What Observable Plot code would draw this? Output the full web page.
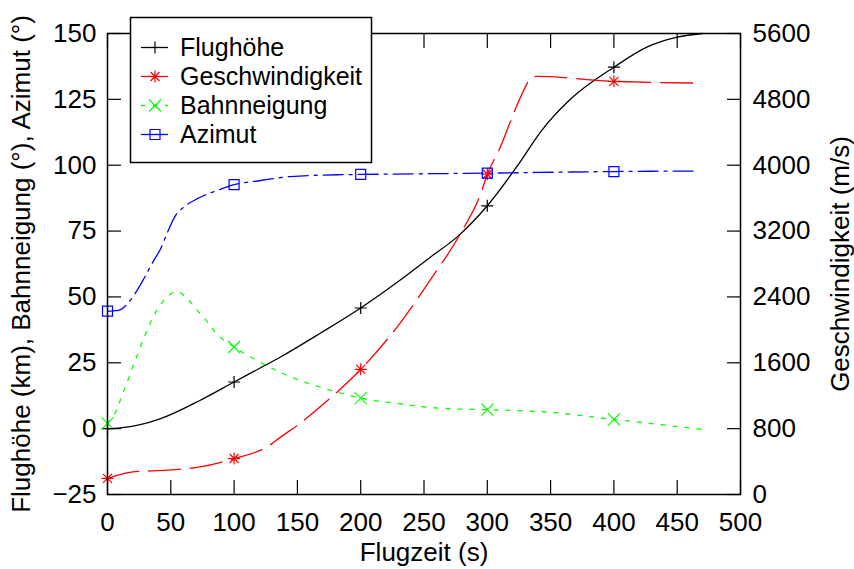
<!DOCTYPE html>
<html>
<head>
<meta charset="utf-8">
<script src="https://cdn.jsdelivr.net/npm/d3@7"></script>
<script src="https://cdn.jsdelivr.net/npm/@observablehq/plot@0.6"></script>
<style>
  body { margin: 0; background: #fff; }
  #wrap { position: relative; width: 854px; height: 569px; }
  #wrap svg.legend { position: absolute; left: 0; top: 0; pointer-events: none; }
</style>
</head>
<body>
<div id="wrap"></div>
<script>
// ---- tick labels / axes ----
const xTicks = [0, 50, 100, 150, 200, 250, 300, 350, 400, 450, 500];
const leftTicks = [-25, 0, 25, 50, 75, 100, 125, 150];
const rightTicks = [0, 800, 1600, 2400, 3200, 4000, 4800, 5600];
const xTitle = "Flugzeit (s)";
const leftTitle = "Flughöhe (km), Bahnneigung (°), Azimut (°)";
const rightTitle = "Geschwindigkeit (m/s)";

// ---- series names / colours ----
const seriesNames = ["Flughöhe", "Geschwindigkeit", "Bahnneigung", "Azimut"];
const seriesColors = ["#000000", "#ff0000", "#00ff00", "#0000ff"];

// ---- Flughöhe (km), left axis ----
const hT = [0, 10, 25, 42, 73, 100, 121, 137, 168, 200, 231, 255, 276, 300, 324, 342, 366, 400, 426, 450, 470];
const hV = [0, 0.3, 1.4, 3.8, 10.7, 17.7, 23.1, 27.3, 36.2, 45.8, 56.3, 65.1, 72.7, 84.6, 99.9, 112.6, 125.2, 137.2, 144.8, 148.6, 150];

// ---- Geschwindigkeit (m/s), right axis ----
const vT = [0, 20, 47, 73, 100, 126, 137, 152, 168, 200, 231, 255, 279, 295, 300, 310, 322, 331, 334, 339, 400, 467];
const vV = [195, 274, 295, 335, 437, 578, 700, 863, 1065, 1520, 2080, 2607, 3175, 3662, 3890, 4209, 4675, 4979, 5060, 5078, 5019, 4998];

// ---- Bahnneigung (°), left axis ----
const bT = [0, 5, 13, 21, 29, 39, 47, 54.5, 63, 71, 79, 85, 100, 118, 142, 168, 200, 229, 268, 300, 347, 400, 470];
const bV = [2, 5.0, 14.5, 24.7, 34.8, 44.9, 49.9, 52.1, 49.3, 44.9, 40.5, 36.7, 31.0, 25.9, 20.2, 15.8, 11.6, 9.5, 7.6, 7.2, 6.3, 3.5, -0.3];

// ---- Azimut (°), left axis ----
const aT = [0, 8.7, 16.8, 23.4, 28.7, 36.6, 42, 45.8, 53.7, 60.3, 71, 86.6, 100, 121, 144.5, 184, 200, 300, 400, 467];
const aV = [44.6, 44.9, 48.0, 52.5, 56.9, 63.9, 68.3, 72.7, 80.9, 84.1, 87.3, 90.4, 92.6, 94.2, 95.7, 96.4, 96.5, 97.0, 97.6, 97.8];

// ---- marker positions ----
const markT = [0, 100, 200, 300, 400];
const markH = [0, 17.7, 45.8, 84.6, 137.2];
const markV = [195, 437, 1520, 3890, 5019];
const markB = [2, 31.0, 11.6, 7.2, 3.5];
const markA = [44.6, 92.6, 96.5, 97.0, 97.6];

// velocity -> left-axis units
const vToY = d3.scaleLinear(d3.extent(rightTicks), d3.extent(leftTicks));

const rows = (ts, vs, f = (d) => d) => ts.map((t, i) => ({t, v: f(vs[i])}));
const hRows = rows(hT, hV), vRows = rows(vT, vV, vToY), bRows = rows(bT, bV), aRows = rows(aT, aV);
const hMk = rows(markT, markH), vMk = rows(markT, markV, vToY), bMk = rows(markT, markB), aMk = rows(markT, markA);

// gnuplot-like symbols
const symPlus = {draw(c, s) { const r = Math.sqrt(s / Math.PI); c.moveTo(-r, 0); c.lineTo(r, 0); c.moveTo(0, -r); c.lineTo(0, r); }};
const symTimes = {draw(c, s) { const r = Math.sqrt(s / Math.PI); c.moveTo(-r, -r); c.lineTo(r, r); c.moveTo(-r, r); c.lineTo(r, -r); }};
const symStar = {draw(c, s) { const r = Math.sqrt(s / Math.PI); const q = r * 0.75;
  c.moveTo(-r, 0); c.lineTo(r, 0); c.moveTo(0, -r); c.lineTo(0, r);
  c.moveTo(-q, -q); c.lineTo(q, q); c.moveTo(-q, q); c.lineTo(q, -q); }};
const symSquare = {draw(c, s) { const r = Math.sqrt(s / Math.PI); c.moveTo(-r, -r); c.lineTo(r, -r); c.lineTo(r, r); c.lineTo(-r, r); c.closePath(); }};
const symbols = [symPlus, symStar, symTimes, symSquare];
const dashes = [null, "32,10", "4,8", "20,6,3,6"];
const sizes = [6, 6, 6, 5];

const lineData = [hRows, vRows, bRows, aRows];
const markData = [hMk, vMk, bMk, aMk];

const font = "'Liberation Sans', Arial, Helvetica, sans-serif";

const marks = [];
lineData.forEach((data, i) => {
  marks.push(Plot.line(data, {x: "t", y: "v", stroke: seriesColors[i], strokeWidth: 1.3,
    strokeDasharray: dashes[i], curve: "monotone-x"}));
});
markData.forEach((data, i) => {
  marks.push(Plot.dot(data, {x: "t", y: "v", symbol: symbols[i], r: sizes[i], stroke: seriesColors[i],
    fill: "none", strokeWidth: 1.2}));
});

const chart = Plot.plot({
  width: 854,
  height: 569,
  marginLeft: 107,
  marginRight: 114,
  marginTop: 33,
  marginBottom: 75,
  style: {fontFamily: font, fontSize: "26px", background: "#fff", color: "#000", overflow: "visible"},
  x: {domain: [0, 500]},
  y: {domain: [-25, 150]},
  marks: [
    ...marks,
    Plot.axisX({ticks: xTicks, anchor: "bottom", tickSize: -14, tickPadding: 32, fontSize: 26,
      label: null, strokeWidth: 1.2}),
    Plot.axisX({ticks: xTicks, anchor: "top", tickSize: -14, tickFormat: () => "", label: null, strokeWidth: 1.2}),
    Plot.axisY({ticks: leftTicks, anchor: "left", tickSize: -14, tickPadding: 25, fontSize: 26,
      label: null, strokeWidth: 1.2}),
    Plot.axisY({ticks: rightTicks.map(vToY), anchor: "right", tickSize: -14, tickPadding: 26, fontSize: 26,
      tickFormat: (d) => String(Math.round(vToY.invert(d))), label: null, strokeWidth: 1.2}),
    Plot.text([xTitle], {text: (d) => d, frameAnchor: "bottom", dy: 58, textAnchor: "middle", lineAnchor: "middle", fontSize: 26, fill: "#000"}),
    Plot.text([leftTitle], {text: (d) => d, frameAnchor: "left", dx: -86, rotate: -90, textAnchor: "middle", lineAnchor: "middle", fontSize: 26, fill: "#000"}),
    Plot.text([rightTitle], {text: (d) => d, frameAnchor: "right", dx: 100, rotate: -90, textAnchor: "middle", lineAnchor: "middle", fontSize: 26, fill: "#000"}),
    Plot.frame({stroke: "#000", strokeWidth: 1.5})
  ]
});

const wrap = document.getElementById("wrap");
wrap.appendChild(chart);

// ---- legend overlay ----
const lg = d3.select(wrap).append("svg").attr("class", "legend")
  .attr("width", 854).attr("height", 569);
lg.append("rect").attr("x", 130.5).attr("y", 17.5).attr("width", 241).attr("height", 145)
  .attr("fill", "#fff").attr("stroke", "#000").attr("stroke-width", 1.5);
seriesNames.forEach((name, i) => {
  const cy = 47.5 + i * 29;
  lg.append("line").attr("x1", 141).attr("x2", 168).attr("y1", cy).attr("y2", cy)
    .attr("stroke", seriesColors[i]).attr("stroke-width", 1.3)
    .attr("stroke-dasharray", i === 2 ? "4,8" : null);
  const p = d3.path();
  symbols[i].draw(p, Math.PI * sizes[i] * sizes[i]);
  lg.append("path").attr("d", p.toString()).attr("transform", `translate(155,${cy})`)
    .attr("fill", "none").attr("stroke", seriesColors[i]).attr("stroke-width", 1.2);
  lg.append("text").attr("x", 180).attr("y", cy + 8.7).text(name)
    .attr("font-family", font).attr("font-size", 25).attr("fill", "#000");
});
</script>
</body>
</html>
